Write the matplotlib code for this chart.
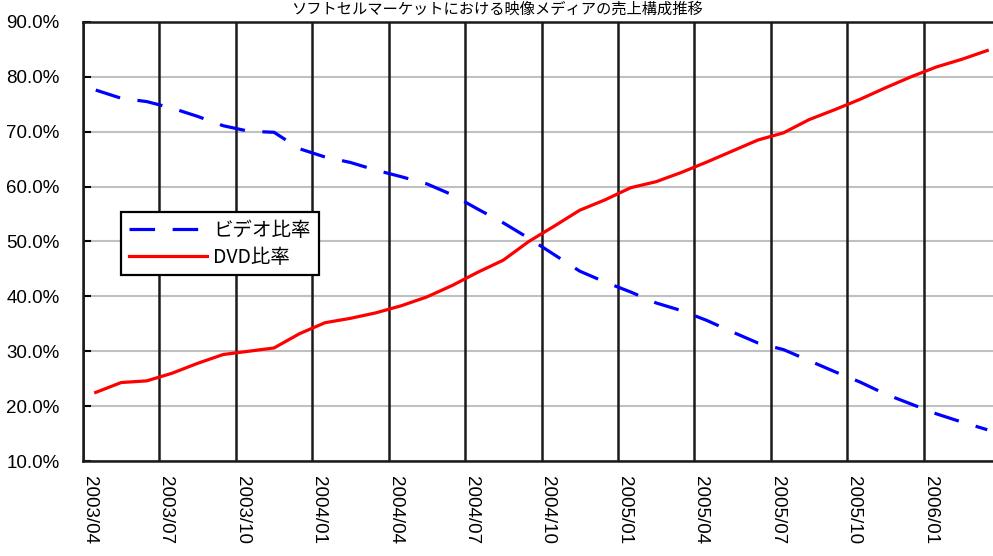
import numpy as np
import matplotlib
matplotlib.use("Agg")
import matplotlib.pyplot as plt
import matplotlib.transforms as mtrans

# monthly data, 2003/04 .. 2006/03
months = ["2003/04", "2003/05", "2003/06", "2003/07", "2003/08", "2003/09",
          "2003/10", "2003/11", "2003/12", "2004/01", "2004/02", "2004/03",
          "2004/04", "2004/05", "2004/06", "2004/07", "2004/08", "2004/09",
          "2004/10", "2004/11", "2004/12", "2005/01", "2005/02", "2005/03",
          "2005/04", "2005/05", "2005/06", "2005/07", "2005/08", "2005/09",
          "2005/10", "2005/11", "2005/12", "2006/01", "2006/02", "2006/03"]
video_ratio = [77.6, 76.1, 75.5, 74.3, 72.8, 71.1, 70.1, 69.9, 66.9, 65.4,
               64.4, 63.0, 61.8, 60.5, 58.5, 55.9, 53.4, 50.6, 47.6, 44.6,
               42.6, 40.8, 38.8, 37.4, 35.6, 33.5, 31.5, 30.3, 28.3, 26.3,
               24.4, 22.2, 20.4, 18.6, 17.1, 15.7]
dvd_ratio = [22.5, 24.3, 24.6, 26.0, 27.8, 29.4, 30.0, 30.6, 33.2, 35.2,
             36.0, 37.0, 38.3, 39.9, 42.0, 44.4, 46.6, 50.0, 52.8, 55.7,
             57.6, 59.8, 60.9, 62.6, 64.5, 66.5, 68.5, 69.8, 72.2, 74.0,
             75.9, 78.0, 80.0, 81.8, 83.2, 84.8]
title = "ソフトセルマーケットにおける映像メディアの売上構成推移"

W, H = 993, 556
fig = plt.figure(figsize=(W / 100, H / 100), dpi=100)
# axes runs a bit past the right edge of the picture
ax = fig.add_axes([83 / W, 1 - 461 / H, (1000 - 83) / W, (461 - 22) / H])

cjk = ["Noto Sans CJK JP", "DejaVu Sans"]
narrow = ["Liberation Sans Narrow", "Liberation Sans", "DejaVu Sans"]
plain = ["Liberation Sans", "DejaVu Sans"]

x = np.arange(len(months)) + 0.5
ax.plot(x, video_ratio, color="#0000ff", lw=2.3, linestyle=(0, (8, 5.5)),
        label="ビデオ比率", dash_capstyle="butt")
ax.plot(x, dvd_ratio, color="#ff0000", lw=2.3, label="DVD比率")

ax.set_xlim(0, len(months))
ax.set_ylim(10, 90)

# horizontal grid light gray, vertical grid black
ax.set_yticks(np.arange(10, 91, 10))
ax.set_yticklabels([f"{v:.1f}%" for v in np.arange(10, 91, 10)],
                   family=narrow, fontsize=13.5)
ax.yaxis.grid(True, color="#c0c0c0", lw=1.5)
ax.tick_params(axis="y", direction="in", length=6, width=1.5, pad=17,
               color="black")

xt = np.arange(0, len(months), 3)
ax.set_xticks(xt)
ax.set_xticklabels([months[i] for i in xt], rotation=-90, family=plain,
                   fontsize=13.5, va="top", ha="left")
ax.tick_params(axis="x", length=0, pad=11)
off = mtrans.ScaledTranslation(-2 / 100, 0, fig.dpi_scale_trans)
for lab in ax.get_xticklabels():
    lab.set_transform(lab.get_transform() + off)
for v in xt:
    ax.axvline(v, color="#1a1a1a", lw=1.8, zorder=1.5)
ax.set_axisbelow(True)

for s in ["left", "bottom", "top"]:
    ax.spines[s].set_linewidth(1.8)
    ax.spines[s].set_color("#1a1a1a")
ax.spines["right"].set_visible(False)

leg = ax.legend(loc="upper left", bbox_to_anchor=((121 - 83) / 917, (461 - 212) / 439),
                borderaxespad=0, prop={"family": cjk, "size": 14},
                handlelength=4.0, handletextpad=0.35, labelspacing=0.3,
                fancybox=False, edgecolor="black", framealpha=1,
                borderpad=0.4)
leg.get_frame().set_linewidth(1.6)

fig.text(0.5, 1 - 9 / H, title, ha="center", va="center",
         family=cjk, fontsize=11)

fig.savefig("out.png", dpi=100)
